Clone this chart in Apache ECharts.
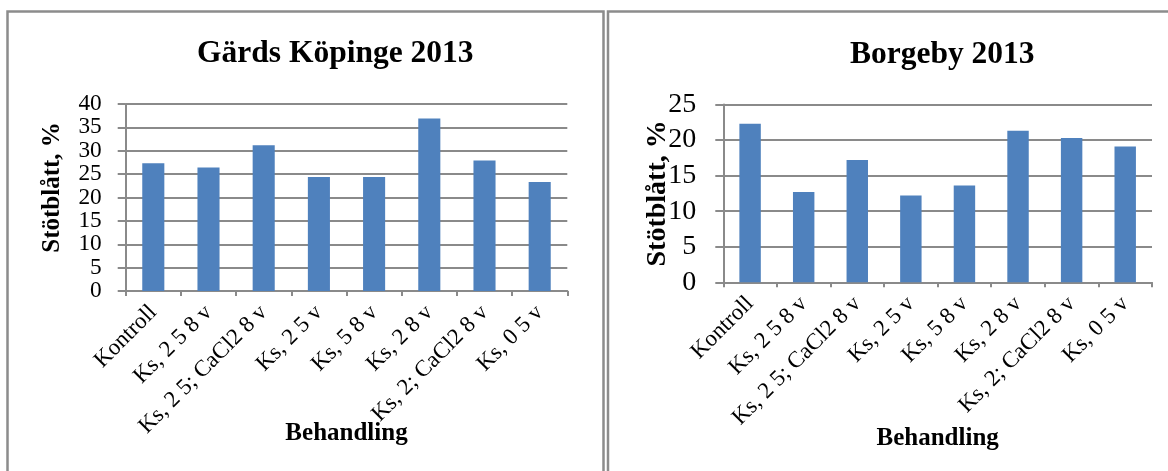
<!DOCTYPE html>
<html>
<head>
<meta charset="utf-8">
<script src="https://cdn.jsdelivr.net/npm/echarts@6/dist/echarts.min.js"></script>
<style>
html,body{margin:0;padding:0;background:#fff;}
#c{width:1168px;height:471px;}
</style>
</head>
<body>
<div id="c"></div>
<script>
var categories = ['Kontroll', 'Ks, 2 5 8 v', 'Ks, 2 5; CaCl2 8 v', 'Ks, 2 5 v', 'Ks, 5 8 v', 'Ks, 2 8 v', 'Ks, 2; CaCl2 8 v', 'Ks, 0 5 v'];
var gardsKopinge = [27.3, 26.4, 31.2, 24.4, 24.4, 36.9, 27.9, 23.3];
var borgeby = [22.3, 12.7, 17.2, 12.2, 13.6, 21.3, 20.3, 19.1];
var titles = ['Gärds Köpinge 2013', 'Borgeby 2013'];
var yName = 'Stötblått, %';
var xName = 'Behandling';

var serif = '"Liberation Serif", "Times New Roman", serif';
var gridColor = '#8a8a8a';
var barColor = '#4F81BD';

function xAxisCfg(gridIndex, gap) {
  return {
    type: 'category', gridIndex: gridIndex, data: categories,
    name: xName, nameLocation: 'middle', nameGap: gap, nameMoveOverlap: false,
    nameTextStyle: { fontFamily: serif, fontWeight: 'bold', fontSize: 25, color: '#000' },
    axisLine: { show: true, lineStyle: { color: gridColor, width: 2 } },
    axisTick: { show: true, length: 5, lineStyle: { color: gridColor, width: 2 } },
    axisLabel: { rotate: 45, interval: 0, margin: 18, padding: [16, 0, 0, 0], fontFamily: serif, fontSize: 23, color: '#000', hideOverlap: false }
  };
}
function yAxisCfg(gridIndex, max, nameFs, labelFs, margin, gap, namePad) {
  return {
    type: 'value', gridIndex: gridIndex, min: 0, max: max, interval: 5,
    name: yName, nameLocation: 'middle', nameGap: gap, nameRotate: 90, nameMoveOverlap: false,
    nameTextStyle: { fontFamily: serif, fontWeight: 'bold', fontSize: nameFs, color: '#000', padding: [0, 0, 0, namePad] },
    axisLine: { show: true, lineStyle: { color: gridColor, width: 2 } },
    axisTick: { show: true, length: 8, lineStyle: { color: gridColor, width: 2 } },
    axisLabel: { margin: margin, showMinLabel: true, showMaxLabel: true, hideOverlap: false, fontFamily: serif, fontSize: labelFs, color: '#000' },
    splitLine: { show: true, lineStyle: { color: gridColor, width: 2 } }
  };
}

var chart = echarts.init(document.getElementById('c'), null, { renderer: 'canvas' });
chart.setOption({
  backgroundColor: '#fff',
  animation: false,
  title: [
    { text: titles[0], left: 192, top: 33, textStyle: { fontFamily: serif, fontWeight: 'bold', fontSize: 31.5, color: '#000' } },
    { text: titles[1], left: 845, top: 34, textStyle: { fontFamily: serif, fontWeight: 'bold', fontSize: 31.5, color: '#000' } }
  ],
  graphic: [
    { type: 'rect', shape: { x: 7.5, y: 11.5, width: 596, height: 500 }, style: { fill: null, stroke: '#8c8c8c', lineWidth: 2.5 }, silent: true },
    { type: 'rect', shape: { x: 608, y: 11.5, width: 600, height: 500 }, style: { fill: null, stroke: '#8c8c8c', lineWidth: 2.5 }, silent: true }
  ],
  grid: [
    { left: 125.7, right: 1168 - 567.3, top: 104, bottom: 471 - 291, containLabel: false },
    { left: 723.3, right: 1168 - 1152, top: 104.5, bottom: 471 - 282.3, containLabel: false }
  ],
  xAxis: [xAxisCfg(0, 130), xAxisCfg(1, 144)],
  yAxis: [yAxisCfg(0, 40, 25, 23.3, 24, 61, 20), yAxisCfg(1, 25, 28, 28, 27, 52, 0)],
  series: [
    { type: 'bar', xAxisIndex: 0, yAxisIndex: 0, data: gardsKopinge, barWidth: '40%', itemStyle: { color: barColor } },
    { type: 'bar', xAxisIndex: 1, yAxisIndex: 1, data: borgeby, barWidth: '40%', itemStyle: { color: barColor } }
  ]
});
</script>
</body>
</html>
